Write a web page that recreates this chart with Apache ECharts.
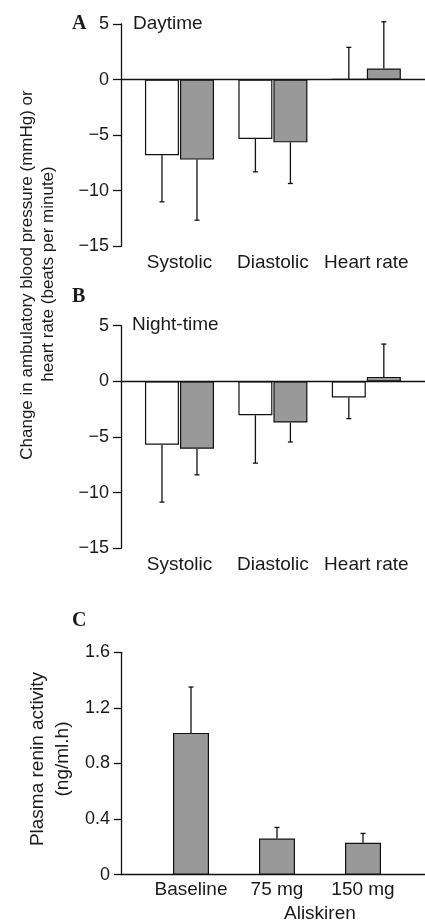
<!DOCTYPE html>
<html><head><meta charset="utf-8">
<script src="https://cdn.jsdelivr.net/npm/echarts@6/dist/echarts.min.js"></script>
<style>html,body{margin:0;padding:0;background:#fff}#c{width:425px;height:920px}</style>
</head><body><div id="c"></div>
<script>
// ---- data ----
const bpCategories = ['Systolic', 'Diastolic', 'Heart rate'];
const dayWhite = [-6.8, -5.35, 0.05];
const dayWhiteSD = [4.2, 2.95, 2.85];
const dayGray = [-7.2, -5.65, 1.0];
const dayGraySD = [5.45, 3.7, 4.2];
const nightWhite = [-5.7, -3.05, -1.45];
const nightWhiteSD = [5.15, 4.3, 1.9];
const nightGray = [-6.05, -3.7, 0.4];
const nightGraySD = [2.35, 1.75, 2.95];
const reninCategories = ['Baseline', '75 mg', '150 mg'];
const renin = [1.02, 0.26, 0.23];
const reninSD = [0.33, 0.08, 0.067];
const bpTicks = [-15, -10, -5, 0, 5];
const reninTicks = [0, 0.4, 0.8, 1.2, 1.6];

// ---- helpers ----
const FONT = 'Liberation Sans';
const TXT = '#1a1a1a';
const pts = (vals) => vals.map((v, i) => [i, v]);
const errPts = (vals, sd) => vals.map((v, i) => [i, v, v + (v >= 0 ? 1 : -1) * sd[i]]);
function errRenderer(offset, cap) {
  return function (params, api) {
    const x = api.value(0), v = api.value(1), t = api.value(2);
    const p0 = api.coord([x, v]), p1 = api.coord([x, t]);
    const st = { stroke: '#111', lineWidth: 1.3 };
    return { type: 'group', children: [
      { type: 'line', shape: { x1: p0[0] + offset, y1: p0[1], x2: p1[0] + offset, y2: p1[1] }, style: st },
      { type: 'line', shape: { x1: p1[0] + offset - cap, y1: p1[1], x2: p1[0] + offset + cap, y2: p1[1] }, style: st }
    ]};
  };
}
const minusFmt = v => String(v).replace('-', '\u2212');

function bpX(gridIndex) {
  return { type: 'value', gridIndex, min: -0.626, max: 2.628,
    axisLine: { show: false, onZero: false }, splitLine: { show: false },
    axisTick: { show: false },
    axisLabel: { customValues: [0, 1, 2], formatter: v => bpCategories[Math.round(v)] || '',
      color: TXT, fontSize: 19, fontFamily: FONT, margin: 7 } };
}
function bpY(gridIndex) {
  return { type: 'value', gridIndex, min: bpTicks[0], max: bpTicks[bpTicks.length - 1], interval: 5,
    axisLine: { show: true, onZero: false, lineStyle: { color: '#111', width: 1.3 } },
    axisTick: { show: true, length: 8, lineStyle: { color: '#111', width: 1.3 } },
    splitLine: { show: false },
    axisLabel: { formatter: minusFmt, color: TXT, fontSize: 18, fontFamily: FONT, margin: 12 } };
}
function barSeries(idx, vals, color, withZero) {
  const s = { type: 'bar', xAxisIndex: idx, yAxisIndex: idx, data: pts(vals), barWidth: 34, barGap: '3%',
    itemStyle: { color, borderColor: '#111', borderWidth: 1.2 }, silent: true };
  if (withZero) s.markLine = { silent: true, symbol: 'none', label: { show: false },
    lineStyle: { color: '#111', width: 1.3, type: 'solid' }, data: [{ yAxis: 0 }] };
  return s;
}
function errSeries(idx, vals, sd, offset, cap) {
  return { type: 'custom', xAxisIndex: idx, yAxisIndex: idx, data: errPts(vals, sd),
    renderItem: errRenderer(offset, cap), silent: true, z: 5 };
}

const chart = echarts.init(document.getElementById('c'), null, { renderer: 'canvas' });
chart.setOption({
  animation: false,
  backgroundColor: '#fff',
  grid: [
    { left: 121, right: 0, top: 24, height: 222.3 },
    { left: 121, right: 0, top: 325.7, height: 222.6 },
    { left: 121, right: 0, top: 652.3, height: 222.4 }
  ],
  xAxis: [bpX(0), bpX(1), {
    type: 'value', gridIndex: 2, min: -0.814, max: 2.721,
    axisLine: { show: true, onZero: false, lineStyle: { color: '#111', width: 1.3 } },
    axisTick: { show: false }, splitLine: { show: false },
    axisLabel: { customValues: [0, 1, 2], formatter: v => reninCategories[Math.round(v)] || '',
      color: TXT, fontSize: 19, fontFamily: FONT, margin: 6 }
  }],
  yAxis: [bpY(0), bpY(1), {
    type: 'value', gridIndex: 2, min: reninTicks[0], max: reninTicks[reninTicks.length - 1], interval: 0.4,
    axisLine: { show: true, onZero: false, lineStyle: { color: '#111', width: 1.3 } },
    axisTick: { show: true, length: 7, lineStyle: { color: '#111', width: 1.3 } },
    splitLine: { show: false },
    axisLabel: { color: TXT, fontSize: 18, fontFamily: FONT, margin: 11 }
  }],
  title: [
    { text: 'Aliskiren', left: 284, top: 904, textStyle: { color: TXT, fontSize: 19, fontWeight: 'normal', fontFamily: FONT }, padding: 0 }
  ],
  graphic: [
    { type: 'text', x: 72, y: 24, style: { text: 'A', font: 'bold 20px "Liberation Serif"', fill: TXT, verticalAlign: 'middle' } },
    { type: 'text', x: 72, y: 297, style: { text: 'B', font: 'bold 20px "Liberation Serif"', fill: TXT, verticalAlign: 'middle' } },
    { type: 'text', x: 72, y: 621, style: { text: 'C', font: 'bold 20px "Liberation Serif"', fill: TXT, verticalAlign: 'middle' } },
    { type: 'text', x: 133, y: 24, style: { text: 'Daytime', font: '19px "Liberation Sans"', fill: TXT, verticalAlign: 'middle' } },
    { type: 'text', x: 132, y: 325, style: { text: 'Night-time', font: '19px "Liberation Sans"', fill: TXT, verticalAlign: 'middle' } },
    { type: 'text', x: 27, y: 275, rotation: Math.PI / 2, style: { text: 'Change in ambulatory blood pressure (mmHg) or', font: '17px "Liberation Sans"', fill: TXT, align: 'center', verticalAlign: 'middle' } },
    { type: 'text', x: 48, y: 274, rotation: Math.PI / 2, style: { text: 'heart rate (beats per minute)', font: '17px "Liberation Sans"', fill: TXT, align: 'center', verticalAlign: 'middle' } },
    { type: 'text', x: 37.5, y: 759, rotation: Math.PI / 2, style: { text: 'Plasma renin activity', font: '19px "Liberation Sans"', fill: TXT, align: 'center', verticalAlign: 'middle' } },
    { type: 'text', x: 63, y: 759, rotation: Math.PI / 2, style: { text: '(ng/ml.h)', font: '19px "Liberation Sans"', fill: TXT, align: 'center', verticalAlign: 'middle' } }
  ],
  series: [
    barSeries(0, dayWhite, '#ffffff', true),
    barSeries(0, dayGray, '#999999', false),
    errSeries(0, dayWhite, dayWhiteSD, -17.5, 2.5),
    errSeries(0, dayGray, dayGraySD, 17.5, 2.5),
    barSeries(1, nightWhite, '#ffffff', true),
    barSeries(1, nightGray, '#999999', false),
    errSeries(1, nightWhite, nightWhiteSD, -17.5, 2.5),
    errSeries(1, nightGray, nightGraySD, 17.5, 2.5),
    { type: 'bar', xAxisIndex: 2, yAxisIndex: 2, data: pts(renin), barWidth: 36,
      itemStyle: { color: '#999999', borderColor: '#111', borderWidth: 1.2 }, silent: true },
    errSeries(2, renin, reninSD, 0, 2.5)
  ]
});
</script></body></html>
